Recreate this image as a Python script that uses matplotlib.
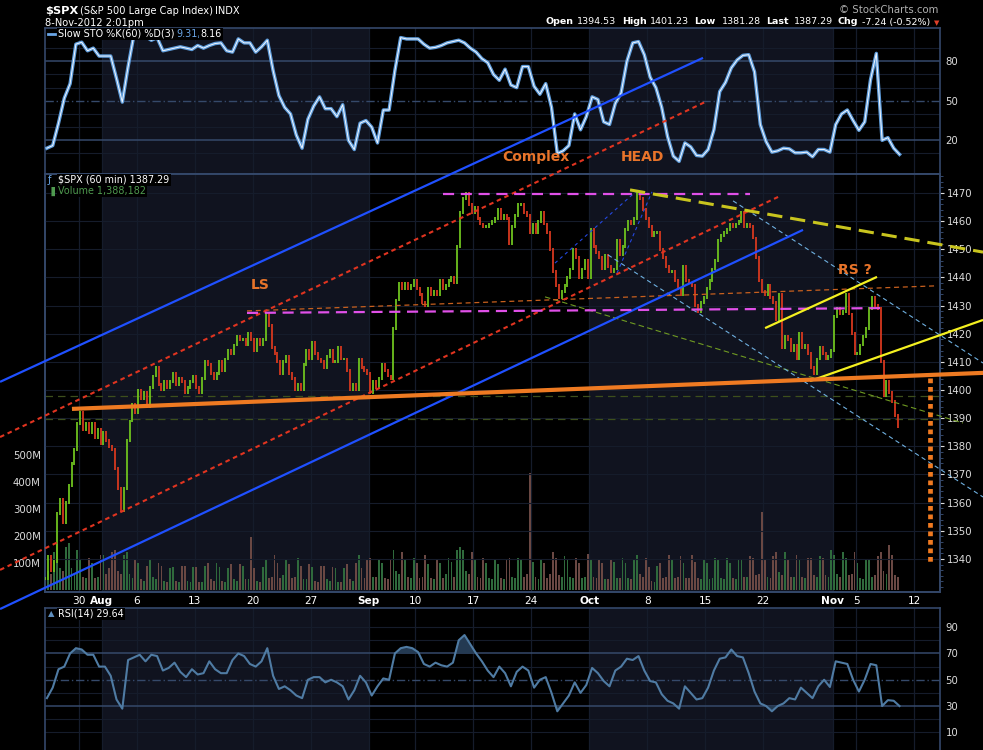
import numpy as np
import matplotlib
matplotlib.use("Agg")
import matplotlib.pyplot as plt
from matplotlib.lines import Line2D

# ---------------- data (trading-day index: 0 = 25-Jul-2012) ----------------
tick_days = [3, 5, 8, 13, 18, 23, 28, 32, 37, 42, 47, 52, 57, 62, 68, 70, 75]
tick_labels = ["30", "Aug", "6", "13", "20", "27", "Sep", "10", "17", "24",
               "Oct", "8", "15", "22", "Nov", "5", "12"]
month_names = ["Aug", "Sep", "Oct", "Nov"]
shaded_months = [(5, 28), (47, 68)]          # August, October

# 60-min $SPX closes, four readings per trading day
price_bars = [
    [1333, 1341, 1336, 1339], [1356, 1361, 1353, 1360], [1366, 1374, 1379, 1388],
    [1392, 1386, 1388, 1385], [1388, 1383, 1386, 1381], [1385, 1382, 1380, 1379],
    [1372, 1365, 1357, 1365], [1382, 1389, 1395, 1392], [1400, 1397, 1399, 1394],
    [1401, 1405, 1408, 1402], [1400, 1403, 1401, 1403], [1406, 1402, 1404, 1403],
    [1399, 1401, 1403, 1405], [1401, 1399, 1404, 1410], [1409, 1406, 1404, 1406],
    [1410, 1407, 1411, 1414], [1413, 1416, 1419, 1418], [1418, 1416, 1420, 1418],
    [1414, 1418, 1416, 1418], [1427, 1423, 1415, 1413], [1410, 1406, 1410, 1412],
    [1406, 1404, 1400, 1402], [1400, 1409, 1414, 1411], [1417, 1413, 1411, 1410],
    [1408, 1412, 1414, 1410], [1410, 1415, 1411, 1411], [1407, 1400, 1402, 1400],
    [1411, 1408, 1407, 1406], [1399, 1403, 1401, 1404], [1409, 1407, 1405, 1404],
    [1422, 1432, 1438, 1436], [1438, 1436, 1437, 1439], [1436, 1434, 1431, 1430],
    [1436, 1434, 1435, 1434], [1439, 1436, 1437, 1439], [1440, 1438, 1451, 1463],
    [1468, 1470, 1466, 1463], [1465, 1461, 1459, 1458], [1458, 1459, 1460, 1461],
    [1464, 1461, 1462, 1461], [1452, 1458, 1462, 1466], [1466, 1463, 1462, 1456],
    [1459, 1456, 1460, 1463], [1459, 1456, 1450, 1442], [1437, 1433, 1435, 1437],
    [1440, 1443, 1450, 1447], [1440, 1443, 1446, 1440], [1457, 1451, 1449, 1447],
    [1443, 1448, 1444, 1442], [1443, 1453, 1448, 1451], [1457, 1460, 1459, 1461],
    [1470, 1468, 1464, 1461], [1458, 1455, 1456, 1456], [1450, 1447, 1444, 1442],
    [1442, 1439, 1436, 1434], [1444, 1439, 1438, 1437], [1430, 1428, 1431, 1433],
    [1436, 1439, 1443, 1446], [1453, 1455, 1456, 1457], [1459, 1458, 1459, 1460],
    [1463, 1458, 1459, 1458], [1454, 1447, 1439, 1435], [1434, 1437, 1433, 1431],
    [1425, 1434, 1415, 1419], [1418, 1414, 1416, 1411], [1420, 1415, 1416, 1413],
    [1408, 1406, 1411, 1415], [1413, 1411, 1412, 1414], [1426, 1429, 1427, 1428],
    [1434, 1427, 1420, 1413], [1413, 1416, 1419, 1422], [1429, 1433, 1430, 1429],
    [1410, 1398, 1403, 1399], [1396, 1391, 1387],
]

# volume (millions of shares), same four readings per day
volume_bars = [
    [150, 70, 60, 140], [170, 80, 70, 160], [175, 80, 60, 150], [110, 50, 45, 120],
    [100, 45, 50, 130], [130, 60, 80, 140], [150, 70, 60, 130], [140, 60, 45, 110],
    [100, 40, 35, 90], [110, 50, 40, 100], [90, 35, 30, 80], [85, 35, 30, 90],
    [90, 35, 30, 85], [85, 30, 30, 90], [100, 40, 35, 100], [85, 35, 30, 80],
    [95, 40, 35, 95], [90, 40, 40, 196], [80, 35, 30, 85], [110, 45, 50, 130],
    [100, 45, 55, 110], [95, 45, 50, 120], [90, 40, 40, 95], [85, 35, 30, 90],
    [90, 40, 35, 85], [80, 30, 30, 80], [95, 40, 35, 100], [130, 80, 45, 110],
    [120, 50, 50, 115], [100, 45, 40, 110], [150, 70, 60, 140], [110, 50, 45, 120],
    [100, 45, 50, 130], [95, 45, 40, 110], [100, 45, 60, 120], [105, 50, 150, 160],
    [150, 70, 60, 140], [110, 50, 45, 120], [100, 45, 40, 115], [95, 45, 40, 110],
    [120, 50, 45, 120], [110, 50, 60, 433], [105, 50, 40, 110], [100, 45, 60, 140],
    [120, 55, 50, 125], [110, 50, 45, 120], [100, 45, 50, 135], [110, 50, 45, 115],
    [100, 40, 40, 110], [105, 45, 45, 120], [100, 45, 40, 115], [130, 60, 50, 120],
    [85, 35, 30, 90], [100, 45, 50, 130], [110, 45, 50, 125], [100, 45, 45, 130],
    [105, 45, 40, 115], [100, 40, 45, 120], [110, 45, 40, 120], [100, 45, 40, 115],
    [110, 50, 50, 125], [120, 55, 60, 290], [115, 50, 45, 125], [140, 65, 55, 140],
    [115, 50, 50, 130], [110, 50, 45, 120], [120, 55, 50, 125], [120, 55, 50, 150],
    [130, 60, 50, 140], [120, 55, 60, 140], [100, 45, 40, 110], [115, 50, 55, 125],
    [140, 70, 60, 167], [130, 55, 50],
]

# Slow STO %K(60) and RSI(14), two readings per trading day
sto_values = [
    14, 16, 33, 52, 63, 93, 94.5, 88, 90, 84, 84, 84, 67, 49, 76, 100, 99, 99,
    96, 98, 88, 89, 90, 91, 90, 89, 92, 90, 92, 93.5, 94, 88, 87, 97, 94, 94,
    87, 91, 96, 73, 54, 45, 40, 24, 14, 36, 46, 53, 44, 44, 38, 47, 20, 13,
    33, 35, 30, 18, 43, 43, 73, 98, 97, 97, 97, 93, 90, 90.6, 92, 94, 95, 96,
    94, 90, 87, 82, 79, 70, 65.6, 74, 62, 60, 76, 76, 61, 55, 63, 45, 10, 12,
    16, 40, 28, 38, 53, 51, 34, 32, 48, 56, 80, 94, 95, 85, 68, 60, 45, 23,
    8, 4, 18, 15, 8.5, 8, 13, 28, 57, 64, 75, 81, 84.5, 85, 72, 32, 19, 11,
    12, 14, 13.5, 10.5, 10.5, 11, 7.5, 13, 13, 11, 32, 40, 43, 35, 27.6, 34,
    66, 86, 20, 22, 14, 9.3,
]
rsi_values = [
    36, 44, 58, 60, 70, 74, 73, 69, 69, 60, 60, 53, 35, 28, 65, 67, 69, 64,
    69, 68, 57, 59, 63, 56, 52, 58, 54, 55, 64, 58, 55, 55, 65, 70, 68, 62,
    60, 64, 74, 53, 43, 45, 42, 38, 36, 50, 52, 52, 48, 50, 48, 45, 35, 42,
    53, 48, 38, 45, 51, 50, 70, 74, 75, 74, 71, 62, 60, 63, 61, 60, 63, 80,
    84, 77, 70, 64, 57, 52, 60, 55, 45, 56, 60, 57, 44, 50, 52, 40, 26, 32,
    38, 48, 40, 46, 59, 55, 49, 45, 57, 60, 66, 65, 68, 57, 49, 48, 39, 34,
    32, 28, 45, 40, 35, 36, 44, 57, 66, 67, 73, 68, 67, 55, 41, 32, 30, 26,
    30, 32, 36, 35, 44, 40, 36, 45, 50, 44.5, 64, 63, 62, 50, 41, 50, 62, 61,
    30, 34.5, 34, 30,
]

# hand-drawn annotation lines: (day0, price0, day1, price1)
blue_channel = [(-3.79, 1402.9, 56.81, 1518.0), (-3.79, 1322.2, 65.43, 1456.9)]
red_channel = [(-3.79, 1383.3, 56.98, 1502.3), (-3.79, 1336.1, 63.28, 1468.6)]
neckline = [(2.41, 1393.3, 80.95, 1406.1)]
magenta_levels = [(17.5, 1427.4, 72.07, 1429.1), (34.4, 1469.6, 60.86, 1469.6)]
thin_orange = [(17.5, 1428.1, 76.81, 1437.0)]
yellow_dashed = [(50.52, 1471.1, 80.95, 1449.0)]
yellow_solid = [(62.16, 1422.0, 71.81, 1440.2), (66.03, 1403.2, 80.95, 1424.9)]
lightblue_dashed = [(59.40, 1467.2, 80.95, 1409.6), (48.62, 1448.0, 80.95, 1362.0)]
olive_dashed = [(43.19, 1433.1, 79.22, 1388.3)]
darkblue_dashed = [(44.05, 1445.1, 51.38, 1471.8), (49.40, 1441.6, 52.41, 1470.4)]
level_lines = [1397.9, 1389.7]
target_bar = [(76.38, 1404.3, 76.38, 1338.9)]
annotations = [("LS", 260, 285), ("Complex", 536, 157), ("HEAD", 642, 157), ("RS ?", 855, 270)]

# ---------------- figure ----------------
W, H = 983, 750
fig = plt.figure(figsize=(W / 100, H / 100), dpi=100, facecolor="black")


def rect(x0, y0, x1, y1):
    return [x0 / W, 1 - y1 / H, (x1 - x0) / W, (y1 - y0) / H]


def ptext(x, y, s, **kw):
    kw.setdefault("va", "center")
    kw.setdefault("color", "white")
    return fig.text(x / W, 1 - y / H, s, **kw)


XL = (0.086, 77.24)
BAND = "#10131f"
BORDER = "#34486a"
DIM = "#151c2b"
LEVEL = "#35496a"


def base_axes(r):
    ax = fig.add_axes(r)
    ax.set_facecolor("black")
    for s in ax.spines.values():
        s.set_color(BORDER)
        s.set_linewidth(1.2)
    ax.set_xlim(*XL)
    for a, b in shaded_months:
        ax.axvspan(a, b, color=BAND, zorder=0, lw=0)
    for d in tick_days:
        ax.axvline(d, color=DIM, lw=0.9, zorder=0.5)
    ax.set_xticks([])
    ax.tick_params(axis="y", colors="#dddddd", labelsize=7.3, length=0, pad=4,
                   left=False, labelleft=False, right=True, labelright=True)
    return ax


# --- STO panel ---
ax_sto = base_axes(rect(45, 28, 940, 174))
ax_sto.set_ylim(-5.6, 105.3)
for v in range(10, 100, 10):
    if v in (20, 50, 80):
        continue
    ax_sto.axhline(v, color=DIM, lw=0.8, zorder=0.5)
ax_sto.axhline(20, color=LEVEL, lw=1.1, zorder=0.6)
ax_sto.axhline(80, color=LEVEL, lw=1.1, zorder=0.6)
ax_sto.axhline(50, color=LEVEL, lw=1.0, ls=(0, (6, 2, 1, 2)), zorder=0.6)
ax_sto.set_yticks([20, 50, 80])
x2 = np.array([d + f for d in range(len(sto_values) // 2) for f in (0.25, 0.75)])
ax_sto.plot(x2, sto_values, color="#5f9ddb", lw=2.5, zorder=3, solid_joinstyle="round")
ax_sto.plot(x2, sto_values, color="#f4f8ff", lw=0.7, zorder=4)

# --- RSI panel ---
ax_rsi = base_axes(rect(45, 608, 940, 752))
ax_rsi.set_ylim(-4.95, 104.56)
for v in range(10, 100, 10):
    if v in (30, 50, 70):
        continue
    ax_rsi.axhline(v, color=DIM, lw=0.8, zorder=0.5)
ax_rsi.axhline(30, color=LEVEL, lw=1.1, zorder=0.6)
ax_rsi.axhline(70, color=LEVEL, lw=1.1, zorder=0.6)
ax_rsi.axhline(50, color=LEVEL, lw=1.0, ls=(0, (6, 2, 1, 2)), zorder=0.6)
ax_rsi.set_yticks([10, 30, 50, 70, 90])
rsi = np.array(rsi_values, float)
ax_rsi.fill_between(x2, rsi, 70, where=rsi >= 70, interpolate=True, color="#243a52", zorder=2, lw=0)
ax_rsi.fill_between(x2, rsi, 30, where=rsi <= 30, interpolate=True, color="#243a52", zorder=2, lw=0)
ax_rsi.plot(x2, rsi, color="#4f7ba3", lw=1.5, zorder=3)

# --- volume panel (underneath) ---
ax_vol = base_axes(rect(45, 174, 940, 592))
ax_vol.set_ylim(-7.4, 1540.8)
ax_vol.tick_params(axis="y", left=False, labelleft=True, right=False, labelright=False, pad=3)
ax_vol.set_yticks([100, 200, 300, 400, 500])
ax_vol.set_yticklabels(["100M", "200M", "300M", "400M", "500M"])

xs, closes, vols = [], [], []
for d, (day, vday) in enumerate(zip(price_bars, volume_bars)):
    for j, (c, v) in enumerate(zip(day, vday)):
        xs.append(d + (j + 0.5) / 4)
        closes.append(c)
        vols.append(v)
xs = np.array(xs)
closes = np.array(closes, float)
vols = np.array(vols, float)
prev = np.r_[closes[0], closes[:-1]]
up = closes >= prev
ax_vol.bar(xs[up], vols[up], width=0.15, color="#2f6a3c", zorder=2, lw=0)
ax_vol.bar(xs[~up], vols[~up], width=0.15, color="#6a4843", zorder=2, lw=0)

# --- price panel (on top) ---
ax = fig.add_axes(rect(45, 174, 940, 592))
ax.set_facecolor("none")
for s in ax.spines.values():
    s.set_color(BORDER)
    s.set_linewidth(1.2)
ax.set_xlim(*XL)
ax.set_ylim(1328.25, 1476.75)
ax.yaxis.tick_right()
ax.set_yticks(range(1340, 1480, 10))
ax.set_yticks(range(1330, 1478, 2), minor=True)
ax.tick_params(axis="y", which="major", colors="#dddddd", labelsize=7.3, length=3, width=0.8, pad=2,
               direction="out", right=True, left=False)
ax.tick_params(axis="y", which="minor", colors=BORDER, length=2, width=0.7, right=True, left=False)
for t in ax.yaxis.get_ticklines() + ax.yaxis.get_ticklines(minor=True):
    t.set_color(BORDER)
for p in range(1340, 1480, 10):
    ax.axhline(p, color=DIM, lw=0.8, zorder=0.5)
ax.set_xticks(tick_days)
ax.set_xticklabels(tick_labels)
ax.tick_params(axis="x", colors="white", labelsize=7.6, length=0, pad=3)
for lab in ax.get_xticklabels():
    if lab.get_text() in month_names:
        lab.set_fontweight("bold")

lo = np.minimum(prev, closes) - 0.5
hi = np.maximum(prev, closes) + 0.5
ax.vlines(xs[up], lo[up], hi[up], color="#6ec21e", lw=1.3, zorder=3)
ax.vlines(xs[~up], lo[~up], hi[~up], color="#d6381e", lw=1.3, zorder=3)

for lv in level_lines:
    ax.axhline(lv, color="#3d4f1c", lw=0.9, ls=(0, (6, 4)), zorder=2)


def draw(segs, color, lw, ls="-", z=6):
    for d0, p0, d1, p1 in segs:
        ax.plot([d0, d1], [p0, p1], color=color, lw=lw, ls=ls, clip_on=False, zorder=z,
                solid_capstyle="butt", dash_capstyle="butt")


draw(olive_dashed, "#6f9a22", 0.8, (0, (5, 3)))
draw(lightblue_dashed, "#6fb0e0", 0.8, (0, (4, 3)))
draw(darkblue_dashed, "#2448e0", 0.8, (0, (3, 3)))
draw(thin_orange, "#c8601e", 0.9, (0, (4, 3)))
draw(blue_channel, "#1f50ff", 1.6)
draw(red_channel, "#e03420", 1.5, (0, (2.2, 1.8)))
draw(magenta_levels, "#e050e8", 1.6, (0, (5, 3)))
draw(yellow_dashed, "#c8c41e", 2.2, (0, (5, 2.6)))
draw(yellow_solid, "#f4f020", 1.6)
draw(neckline, "#ee7a22", 3.0)
draw(target_bar, "#f07a20", 3.4, (0, (1.0, 0.8)))

for s, x, y in annotations:
    ptext(x, y, s, ha="center", color="#e8742a", fontsize=10, fontweight="bold")

# --- legends / header ---
box = dict(facecolor="black", edgecolor="none", pad=1.0)
LS = 6.9
fig.add_artist(Line2D([48 / W, 55 / W], [1 - 34 / H, 1 - 34 / H], color="#6aa6e6", lw=2))
ptext(58, 34, "Slow STO %K(60) %D(3)", fontsize=LS, bbox=box)
ptext(176, 34, "9.31,", fontsize=LS, color="#6aa6e6", bbox=box)
ptext(200, 34, "8.16", fontsize=LS, bbox=box)
ptext(48, 180, "\u0192", fontsize=7, color="#6aa6e6")
ptext(58, 180, "$SPX (60 min) 1387.29", fontsize=LS, bbox=box)
ptext(48, 191, "\u2590", fontsize=6.5, color="#4f9a4f")
ptext(58, 191, "Volume 1,388,182", fontsize=LS, color="#4f9a4f", bbox=box)
ptext(48, 614, "\u25b2", fontsize=6, color="#5f8fbf")
ptext(58, 614, "RSI(14) 29.64", fontsize=LS, bbox=box)

ptext(45, 11, "$SPX", fontsize=8.2, fontweight="bold")
ptext(80, 11, "(S&P 500 Large Cap Index)", fontsize=7.1)
ptext(215, 11, "INDX", fontsize=7.1)
ptext(45, 23, "8-Nov-2012 2:01pm", fontsize=7.1)
ptext(938, 10, "\u00a9 StockCharts.com", fontsize=7.3, ha="right", color="#b0b0b0")
for x, s, bold in [(545, "Open", True), (577, "1394.53", False), (622, "High", True),
                   (650, "1401.23", False), (694, "Low", True), (722, "1381.28", False),
                   (766, "Last", True), (794, "1387.29", False), (838, "Chg", True),
                   (862, "-7.24 (-0.52%)", False)]:
    ptext(x, 22, s, fontsize=6.8, fontweight="bold" if bold else "normal")
ptext(937, 23, "\u25bc", fontsize=5, ha="center", color="#e0402a")

fig.savefig("out.png", dpi=100, facecolor="black")
